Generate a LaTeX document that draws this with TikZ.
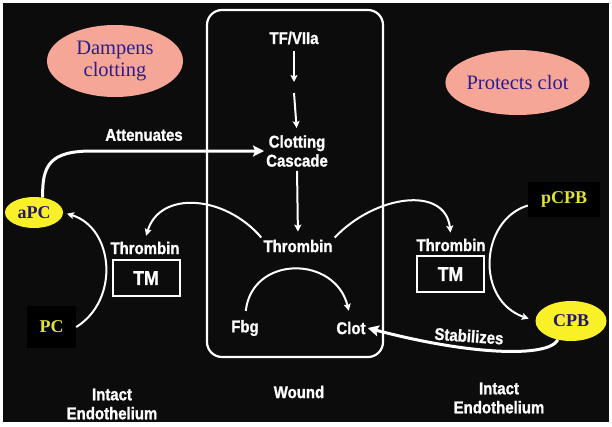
\documentclass[tikz,border=0pt]{standalone}
\usepackage{fontspec}
\setmainfont{Liberation Serif}
\newfontfamily\labfont[FakeStretch=0.88,FakeBold=1.2]{Liberation Sans}
\usetikzlibrary{arrows.meta,shapes.geometric}
\definecolor{salmon}{RGB}{246,166,150}
\definecolor{navy}{RGB}{44,28,140}
\definecolor{yel}{RGB}{250,240,40}
\definecolor{ytext}{RGB}{225,225,60}
\definecolor{bgc}{RGB}{12,12,12}
\tikzset{
  wl/.style={font=\labfont\bfseries\fontsize{17}{19}\selectfont, text=white, align=center, inner sep=2pt},
  tmbox/.style={draw=white, line width=2pt, minimum width=67pt, minimum height=36pt, inner sep=0pt,
    font=\labfont\bfseries\fontsize{20}{22}\selectfont, text=white},
  salm/.style={ellipse, fill=salmon, inner sep=0pt, text=navy, align=center, font=\fontsize{20.5}{22}\selectfont},
  yell/.style={ellipse, fill=yel, inner sep=0pt, text=navy!80!black, font=\bfseries\fontsize{18}{20}\selectfont},
  blk/.style={fill=black, inner sep=0pt, text=ytext, font=\bfseries\fontsize{18}{20}\selectfont},
  arr/.style={draw=white, line width=2pt, -{Stealth[length=7pt,width=7pt,inset=1.5pt]}},
  bigarr/.style={draw=white, line width=3pt, -{Stealth[length=11pt,width=11pt,inset=2pt]}}
}
\begin{document}
\begin{tikzpicture}[x=1pt,y=-1pt]
\fill[white] (0,0) rectangle (612,426);
\fill[bgc] (3,3) rectangle (609,422);
\useasboundingbox (0,0) rectangle (612,426);

% wound box
\draw[white, line width=2.2pt, rounded corners=15pt] (207,10) rectangle (383,357);

% ellipses and boxes
\node[salm, minimum width=136pt, minimum height=72pt] (damp) at (115,61) {Dampens\\clotting};
\node[salm, minimum width=131pt, minimum height=65pt] (prot) at (517.5,82.5) {Protects clot};
\node[yell, minimum width=58pt, minimum height=31pt] (apc) at (34,212.5) {aPC};
\node[blk, minimum width=49pt, minimum height=42pt] (pc) at (51.5,327) {PC};
\node[blk, minimum width=72pt, minimum height=35pt] (pcpb) at (564,199.5) {pCPB};
\node[yell, minimum width=71pt, minimum height=40pt] (cpb) at (571,321) {CPB};

% white labels
\node[wl] (tf) at (294,38) {TF/VIIa};
\coordinate (m1) at (294,82);
\coordinate (m2) at (294,93);
\node[wl] (cc) at (297,151) {Clotting\\Cascade};
\node[wl] (thr) at (298,246) {Thrombin};
\node[wl] (fbg) at (245,328) {Fbg};
\node[wl] (clot) at (351,328) {Clot};
\node[wl] (lthr) at (145,248) {Thrombin};
\node[tmbox] (ltm) at (146,278) {TM};
\node[wl] (rthr) at (451,245) {Thrombin};
\node[tmbox] (rtm) at (450.5,274) {TM};
\node[wl] (att) at (144,135) {Attenuates};
\node[wl, rotate=-4] (stab) at (469,336) {Stabilizes};
\node[wl] (wound) at (299,392) {Wound};
\node[wl] (lend) at (112,404) {Intact\\Endothelium};
\node[wl] (rend) at (499,398) {Intact\\Endothelium};
\coordinate (attc) at (92,151);

% connectors
\draw[arr, shorten <=4pt] (tf) -- (m1);
\draw[arr, shorten >=5pt] (m2) -- (cc.north);
\draw[arr, shorten <=2pt, shorten >=6pt] (cc.south) -- (thr.north);
\draw[arr, shorten >=4pt] (thr.north west) .. controls (225,195) and (160,190) .. (lthr.north);
\draw[arr, shorten >=4pt] (thr.north east) .. controls (375,195) and (445,185) .. (rthr.north);
\draw[arr, shorten <=7pt, shorten >=9pt] (fbg.north) .. controls (252,255) and (335,255) .. (clot.north);
\draw[arr, shorten >=4pt] (pc.east) .. controls (120,300) and (114,228) .. (apc.east);
\draw[arr, shorten >=7pt] ([yshift=-6pt]pcpb.west) .. controls (480,220) and (475,300) .. (cpb.west);
\draw[bigarr] (apc.60) .. controls (42,165) and (50,151) .. (attc) -- (cc.west |- attc);
\draw[bigarr] (cpb.235) .. controls (548,358) and (470,355) .. (clot.east);
\end{tikzpicture}
\end{document}
